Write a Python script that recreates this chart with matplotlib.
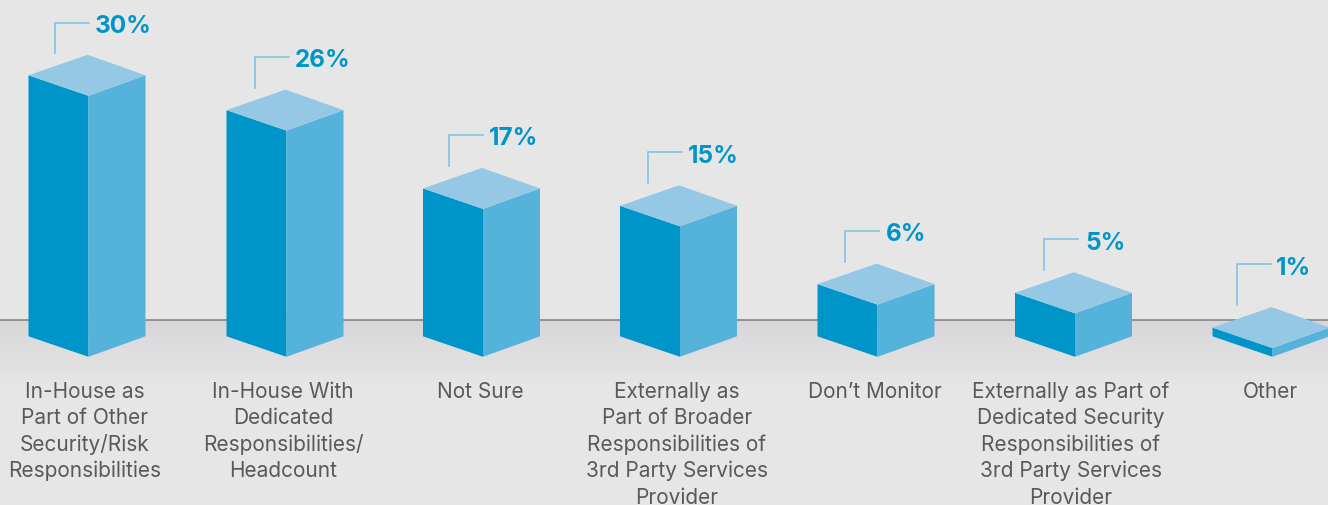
# -*- coding: utf-8 -*-
import numpy as np
import matplotlib
matplotlib.use('Agg')
import matplotlib.pyplot as plt
from matplotlib.colors import LinearSegmentedColormap
from matplotlib.patches import Polygon

categories = [
    'In-House as\nPart of Other\nSecurity/Risk\nResponsibilities',
    'In-House With\nDedicated\nResponsibilities/\nHeadcount',
    'Not Sure',
    'Externally as\nPart of Broader\nResponsibilities of\n3rd Party Services\nProvider',
    'Don\u2019t Monitor',
    'Externally as Part of\nDedicated Security\nResponsibilities of\n3rd Party Services\nProvider',
    'Other',
]
values = [30, 26, 17, 15, 6, 5, 1]

# horizontal layout, in pixels
bar_centers = [88.5, 286.5, 483, 680, 877.5, 1075, 1272.5]
label_centers = [85, 283, 480, 677, 875, 1071, 1270]
leader_x = [55, 255, 449, 648, 845, 1044, 1237]
value_x = [95, 295, 489, 688, 886, 1085, 1276]
# height of each leader above the top of its block
leader_rise = [32, 33, 33, 33, 33, 33, 43]

BG = '#e6e6e6'
FRONT = '#0095c8'
SIDE = '#55b2da'
TOP = '#95c8e4'
LEADER = '#85c3e3'
TEXT = '#58595b'

PX_PER_PCT = 8.7
BASE_PX = 357
WIDTH, HEIGHT = 1328, 506


def dy(px):
    # pixel offset to percent units on the y axis
    return px / PX_PER_PCT


def draw_block(ax, c, v):
    left, right = c - 60, c + 57
    rise = dy(20.5)
    ax.add_patch(Polygon([(left, rise), (c, 0), (c, v), (left, v + rise)], fc=FRONT, lw=0, zorder=3))
    ax.add_patch(Polygon([(c, 0), (right, rise), (right, v + rise), (c, v)], fc=SIDE, lw=0, zorder=3))
    ax.add_patch(Polygon([(left, v + rise), (c, v), (right, v + rise), (c - 1, v + 2 * rise)], fc=TOP, lw=0, zorder=3))


fig = plt.figure(figsize=(WIDTH / 100, HEIGHT / 100), dpi=100, facecolor=BG)
ax = fig.add_axes([0, 0, 1, 1])
ax.axis('off')

# floor shading below the horizon line
baseline = dy(BASE_PX - 320)
floor_end = dy(BASE_PX - 385)
shade = np.linspace(0, 1, 64).reshape(-1, 1)
ax.imshow(shade, extent=(0, WIDTH, floor_end, baseline), aspect='auto', origin='upper',
          cmap=LinearSegmentedColormap.from_list('floor', ['#d8d6d9', BG]), zorder=1)
ax.set_xlim(0, WIDTH)
ax.set_ylim(dy(BASE_PX + 0.8 - HEIGHT), dy(BASE_PX + 0.8))
ax.plot([0, WIDTH], [baseline, baseline], color='#7d7d7d', lw=1.1, zorder=2)

for i, (c, v, name) in enumerate(zip(bar_centers, values, categories)):
    draw_block(ax, c, v)
    back = v + dy(41)
    x0 = leader_x[i]
    top = back + dy(leader_rise[i])
    ax.plot([x0, x0, x0 + 34], [back + dy(2), top, top],
            color=LEADER, lw=1.2, solid_joinstyle='miter', zorder=3)
    ax.text(value_x[i], top - dy(9.5), f'{v}%', color=FRONT, fontsize=17.5, fontweight='bold',
            family='Inter', ha='left', va='baseline', zorder=4)
    # category text goes line by line to hold an even pitch
    for j, line in enumerate(name.split('\n')):
        ax.text(label_centers[i], dy(BASE_PX - 396.7 - 26.6 * j), line, color=TEXT, fontsize=15,
                family='Inter', ha='center', va='baseline', zorder=4)

fig.savefig('out.png', dpi=100, facecolor=BG)
